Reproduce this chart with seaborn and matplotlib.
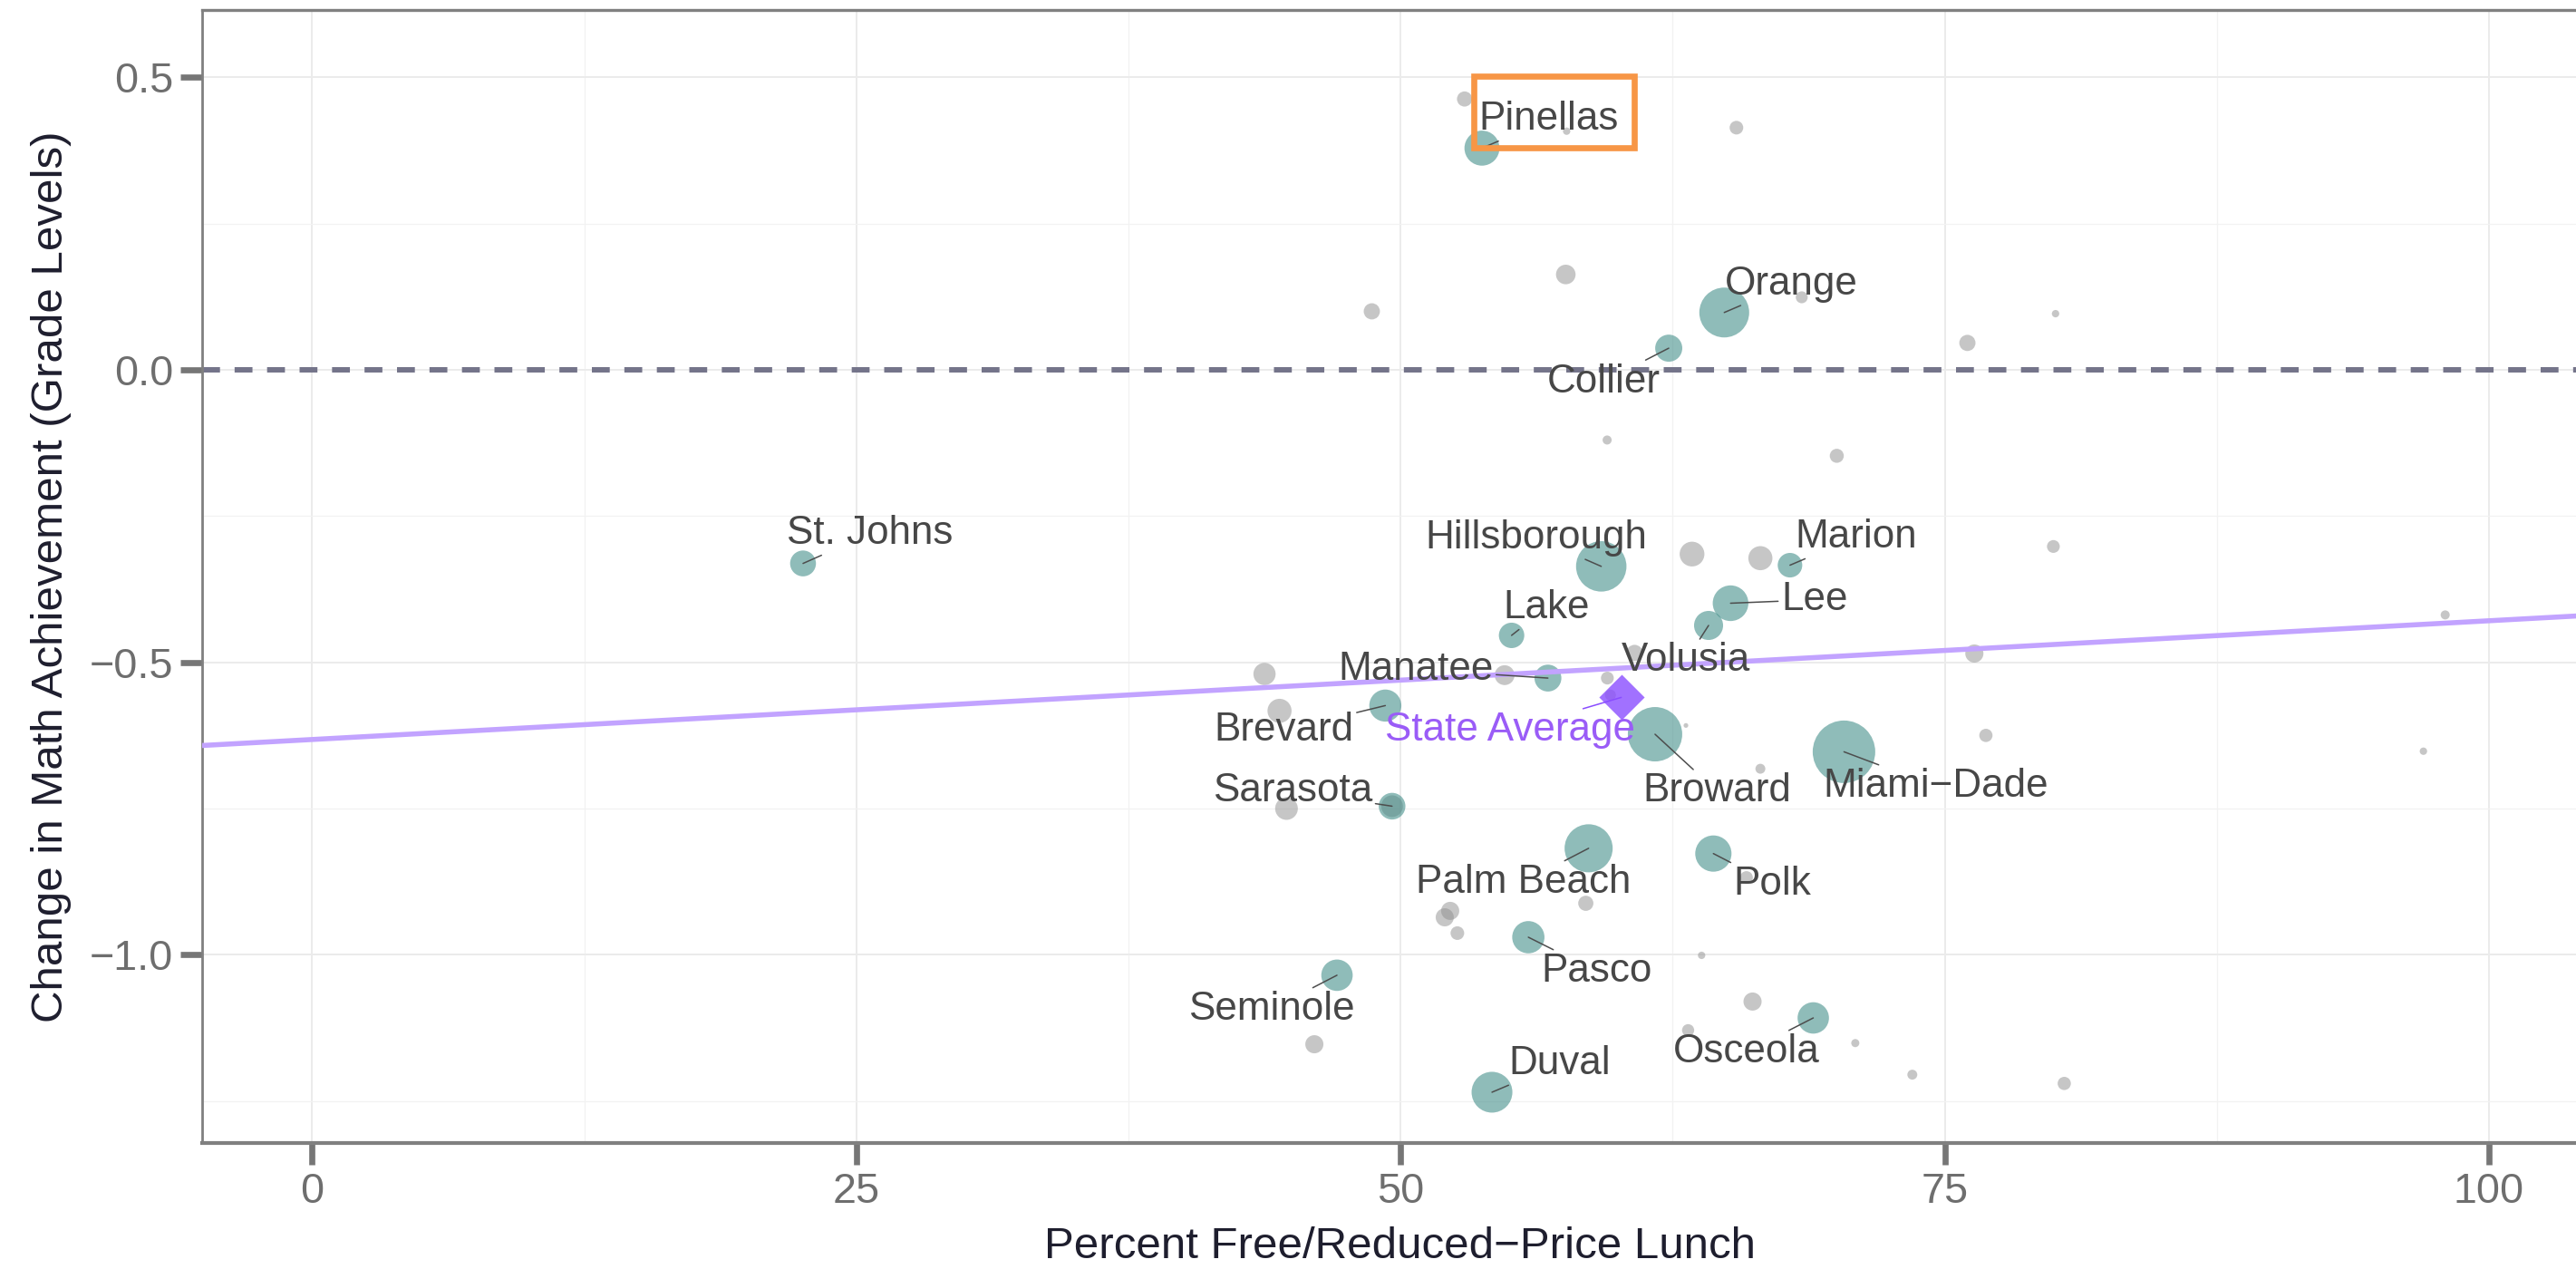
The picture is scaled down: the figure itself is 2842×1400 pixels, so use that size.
import numpy as np
import pandas as pd
import matplotlib
matplotlib.use("Agg")
import matplotlib.pyplot as plt
import seaborn as sns
from matplotlib.patches import Rectangle
from matplotlib.transforms import IdentityTransform
from matplotlib.ticker import FixedLocator, FuncFormatter
import matplotlib.text as mtext

# ---------------- data ----------------
county = ["Pinellas", "Orange", "Collier", "St. Johns", "Hillsborough", "Marion", "Lee",
          "Volusia", "Lake", "Manatee", "Brevard", "Broward", "Miami\u2212Dade", "Sarasota",
          "Palm Beach", "Polk", "Pasco", "Seminole", "Osceola", "Duval"]
county_frl = [53.74, 64.87, 62.32, 22.55, 59.22, 67.89, 65.16,
              64.15, 55.10, 56.77, 49.30, 61.69, 70.37, 49.61,
              58.64, 64.37, 55.87, 47.08, 68.96, 54.20]
county_change = [0.379, 0.098, 0.037, -0.331, -0.336, -0.334, -0.399,
                 -0.437, -0.454, -0.527, -0.574, -0.623, -0.653, -0.746,
                 -0.818, -0.827, -0.970, -1.035, -1.108, -1.235]
county_enroll = [112, 227, 67, 61, 232, 55, 116,
                 77, 59, 66, 94, 270, 357, 65,
                 211, 120, 95, 90, 90, 152]

other_frl = [52.94, 57.63, 65.43, 57.59, 48.68, 68.43, 80.09, 76.04, 59.49, 70.04,
             63.39, 66.53, 79.99, 97.99, 60.75, 76.36, 43.75, 54.78, 59.50, 44.44,
             59.64, 63.11, 76.89, 96.99, 66.53, 44.76, 65.89, 58.51, 52.03, 52.28,
             52.61, 63.83, 66.17, 63.21, 70.89, 46.04, 73.51, 80.49, 49.61]
other_change = [0.463, 0.408, 0.414, 0.163, 0.100, 0.124, 0.096, 0.046, -0.120, -0.147,
                -0.315, -0.322, -0.302, -0.419, -0.484, -0.485, -0.520, -0.522, -0.527, -0.583,
                -0.556, -0.608, -0.625, -0.652, -0.682, -0.750, -0.868, -0.912, -0.936, -0.925,
                -0.963, -1.001, -1.080, -1.129, -1.151, -1.153, -1.205, -1.220, -0.746]
other_enroll = [21, 5, 17, 35, 24, 13, 5, 24, 7.5, 18,
                56, 53, 15, 7.5, 24, 30, 45, 36, 15, 53,
                11, 2, 16, 5, 9, 47, 15, 21, 30, 30,
                17, 5, 30, 13.5, 6, 30, 9, 16, 43]

state_label = "State Average"
state_frl = [60.14]
state_change = [-0.560]

fit_intercept = -0.632
fit_slope = 0.00203

x_ticks = [0, 25, 50, 75, 100]
x_minor = [12.5, 37.5, 62.5, 87.5]
y_ticks = [-1.0, -0.5, 0.0, 0.5]
y_minor = [-1.25, -0.75, -0.25, 0.25]

x_title = "Percent Free/Reduced\u2212Price Lunch"
y_title = "Change in Math Achievement (Grade Levels)"
highlight = "Pinellas"

# label placement (repelled text layout: left x, baseline y)
label_layout = {
    "Pinellas": (53.60, 0.410), "Orange": (64.89, 0.129), "Collier": (56.73, -0.038),
    "St. Johns": (21.82, -0.298), "Hillsborough": (51.12, -0.305), "Marion": (68.11, -0.304),
    "Lee": (67.48, -0.411), "Volusia": (60.15, -0.515), "Lake": (54.71, -0.425),
    "Manatee": (47.12, -0.530), "Brevard": (41.43, -0.634), "Broward": (61.11, -0.738),
    "Miami\u2212Dade": (69.42, -0.730), "Sarasota": (41.37, -0.738), "Palm Beach": (50.69, -0.894),
    "Polk": (65.30, -0.897), "Pasco": (56.45, -1.046), "Seminole": (40.23, -1.111),
    "Osceola": (62.54, -1.184), "Duval": (54.96, -1.204), "State Average": (49.29, -0.634),
}

# ---------------- style ----------------
sns.set_style("white")
plt.rcParams["font.family"] = ["Liberation Sans", "DejaVu Sans"]

TEAL = "#3f8c87"
GREY = "#8f8f8f"
PURPLE = "#8a4dff"
PURPLE_TXT = "#9a5cf7"
LINE_PURPLE = "#c2a3ff"
LABEL_COL = "#474747"
SEG_COL = "#4d4d4d"
TITLE_COL = "#1e1e2e"
ORANGE = "#F79646"

W, H = 2842, 1400
fig = plt.figure(figsize=(W / 100, H / 100), dpi=100)
ax = fig.add_axes([223 / W, (H - 1261.3) / H, (2867 - 223) / W, (1261.3 - 11) / H])

others = pd.DataFrame({"frl": other_frl, "change": other_change, "enroll": other_enroll})
big = pd.DataFrame({"county": county, "frl": county_frl, "change": county_change,
                    "enroll": county_enroll})

vmax = max(county_enroll)
size_kw = dict(size="enroll", sizes=(0, 6.912 * vmax), size_norm=(0, vmax),
               legend=False, linewidth=0, edgecolor="none")

ax.axhline(0, color="#74748a", lw=4.3, dashes=(3.3, 2.7), zorder=1.5)
sns.scatterplot(data=others, x="frl", y="change", color=GREY, alpha=0.5, ax=ax,
                zorder=2, **size_kw)
sns.scatterplot(data=big, x="frl", y="change", color=TEAL, alpha=0.58, ax=ax,
                zorder=3, **size_kw)
ax.axline((0, fit_intercept), slope=fit_slope, color=LINE_PURPLE, lw=4.0, zorder=4)
sns.scatterplot(x=state_frl, y=state_change, marker="D", s=650, color=PURPLE,
                alpha=0.8, linewidth=0, ax=ax, zorder=5, legend=False)

ax.set_xlim(-5.055, 105.04)
ax.set_ylim(-1.3223, 0.6152)

anns = {}
for name, px, py in zip(county, county_frl, county_change):
    lx, ly = label_layout[name]
    anns[name] = ax.annotate(name, xy=(px, py), xytext=(lx, ly), textcoords="data",
                             ha="left", va="baseline", fontsize=31.7, color=LABEL_COL,
                             arrowprops=dict(arrowstyle="-", color=SEG_COL, lw=1.1,
                                             shrinkA=0, shrinkB=0),
                             zorder=7)
lx, ly = label_layout[state_label]
ax.annotate(state_label, xy=(state_frl[0], state_change[0]), xytext=(lx, ly),
            textcoords="data", ha="left", va="baseline", fontsize=31.7, color=PURPLE_TXT,
            arrowprops=dict(arrowstyle="-", color=PURPLE, lw=1.1, shrinkA=0, shrinkB=0),
            zorder=7)

# axes styling
ax.xaxis.set_major_locator(FixedLocator(x_ticks))
ax.xaxis.set_minor_locator(FixedLocator(x_minor))
ax.yaxis.set_major_locator(FixedLocator(y_ticks))
ax.yaxis.set_minor_locator(FixedLocator(y_minor))
ax.xaxis.set_major_formatter(FuncFormatter(lambda v, _: f"{v:.0f}"))
ax.yaxis.set_major_formatter(FuncFormatter(lambda v, _: f"{v:.1f}".replace("-", "\u2212")))
ax.grid(which="major", color="#ebebeb", lw=1.4)
ax.grid(which="minor", color="#f2f2f2", lw=0.9)
ax.set_axisbelow(True)
ax.tick_params(which="major", bottom=True, left=True, length=17.3, width=4.8,
               color="#767676", pad=5.8, labelsize=33.7, labelcolor="#6e6e6e",
               direction="out")
ax.tick_params(which="minor", bottom=False, left=False, length=0)
for side in ["left", "bottom", "top", "right"]:
    ax.spines[side].set_color("#808080")
ax.spines["left"].set_linewidth(2.0)
ax.spines["bottom"].set_linewidth(3.0)
ax.spines["top"].set_linewidth(2.4)
ax.spines["right"].set_linewidth(2.4)

ax.set_xlabel(x_title, fontsize=35.5, color=TITLE_COL)
ax.set_ylabel(y_title, fontsize=35.5, color=TITLE_COL)
ax.xaxis.set_label_coords(0.5, -0.0733)
ax.yaxis.set_label_coords(-0.0545, 0.5)

# highlight box around the Pinellas label
fig.canvas.draw()
renderer = fig.canvas.get_renderer()
bb = mtext.Text.get_window_extent(anns[highlight], renderer)
pad_l, pad_r, pad_b, pad_t = 5.4, 16.7, 10.1, 27.7
rect = Rectangle((bb.x0 - pad_l, bb.y0 - pad_b), bb.width + pad_l + pad_r,
                 bb.height + pad_b + pad_t, transform=IdentityTransform(),
                 fill=False, edgecolor=ORANGE, lw=4.8, zorder=8, clip_on=False)
fig.patches.append(rect)

fig.savefig("out.png", dpi=100)
